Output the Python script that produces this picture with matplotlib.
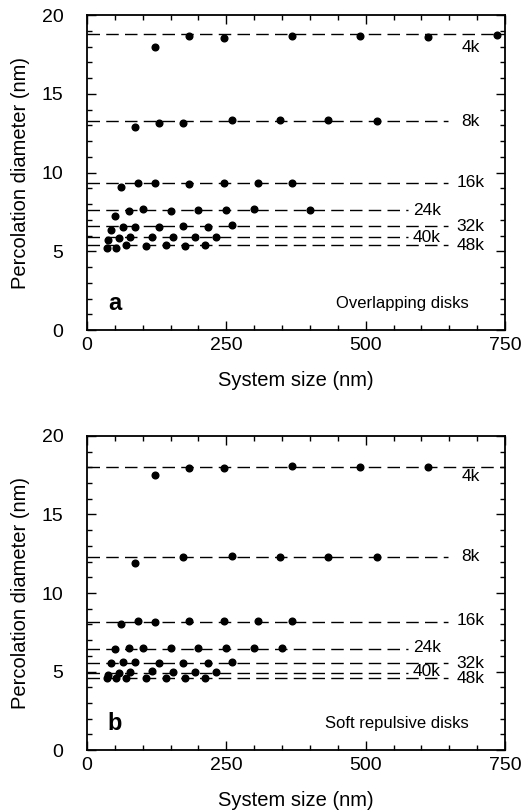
import matplotlib.pyplot as plt
from matplotlib.ticker import MultipleLocator

plt.rcParams['font.family'] = ['Liberation Sans', 'DejaVu Sans']

labels = ['4k', '8k', '16k', '24k', '32k', '40k', '48k']

# (a) overlapping disks
sizes_a = [
    [122.5, 183.75, 245, 367.5, 490, 612.5, 735],
    [86.6, 129.9, 173.2, 259.8, 346.4, 433.0, 519.6],
    [61.25, 91.9, 122.5, 183.75, 245, 306.25, 367.5],
    [50, 75, 100, 150, 200, 250, 300, 400],
    [43.3, 65.0, 86.6, 129.9, 173.2, 216.5, 259.8],
    [38.7, 58.1, 77.5, 116.2, 154.9, 193.6, 232.4],
    [35.4, 53.0, 70.7, 106.1, 141.4, 176.8, 212.1],
]
diam_a = [
    [17.99, 18.67, 18.52, 18.70, 18.70, 18.64, 18.73],
    [12.91, 13.12, 13.12, 13.33, 13.37, 13.33, 13.29],
    [9.06, 9.31, 9.31, 9.27, 9.35, 9.35, 9.31],
    [7.26, 7.56, 7.66, 7.58, 7.62, 7.62, 7.66, 7.60],
    [6.35, 6.52, 6.56, 6.56, 6.60, 6.56, 6.65],
    [5.71, 5.82, 5.88, 5.88, 5.88, 5.93, 5.93],
    [5.18, 5.24, 5.40, 5.36, 5.40, 5.36, 5.38],
]
limit_a = [18.79, 13.29, 9.35, 7.62, 6.60, 5.93, 5.40]

# (b) soft repulsive disks
sizes_b = [
    [122.5, 183.75, 245, 367.5, 490, 612.5],
    [86.6, 173.2, 259.8, 346.4, 433.0, 519.6],
    [61.25, 91.9, 122.5, 183.75, 245, 306.25, 367.5],
    [50, 75, 100, 150, 200, 250, 300, 350],
    [43.3, 65.0, 86.6, 129.9, 173.2, 216.5, 259.8],
    [38.7, 58.1, 77.5, 116.2, 154.9, 193.6, 232.4],
    [35.4, 53.0, 70.7, 106.1, 141.4, 176.8, 212.1],
]
diam_b = [
    [17.52, 17.98, 17.98, 18.09, 18.05, 18.05],
    [11.90, 12.31, 12.33, 12.31, 12.31, 12.31],
    [8.03, 8.22, 8.17, 8.24, 8.22, 8.22, 8.22],
    [6.43, 6.47, 6.47, 6.47, 6.47, 6.47, 6.47, 6.47],
    [5.52, 5.60, 5.60, 5.56, 5.56, 5.56, 5.60],
    [4.78, 4.88, 4.94, 5.03, 4.94, 4.94, 4.94],
    [4.56, 4.56, 4.56, 4.56, 4.58, 4.56, 4.56],
]
limit_b = [18.04, 12.31, 8.17, 6.45, 5.56, 4.93, 4.56]

# how far each dashed line runs and where its label sits
line_end = [750, 648, 648, 576, 648, 576, 648]
label_x = [672, 672, 663, 585, 663, 585, 663]
label_y_a = [17.92, 13.23, 9.35, 7.62, 6.60, 5.88, 5.40]
label_y_b = [17.41, 12.30, 8.28, 6.54, 5.48, 5.03, 4.57]

fig = plt.figure(figsize=(5.3, 8.11), dpi=100)
ax1 = fig.add_axes([0.164, 0.593, 0.789, 0.3884])
ax2 = fig.add_axes([0.164, 0.0752, 0.789, 0.3872])


def draw(ax, sizes, diam, limit, lab_y, letter, title):
    for i in range(len(labels)):
        ax.plot([0, line_end[i]], [limit[i], limit[i]], color='black', lw=1.0,
                dashes=(9, 4.5), zorder=2)
        ax.plot(sizes[i], diam[i], 'o', color='black', ms=4.8, zorder=3)
        ax.text(label_x[i], lab_y[i], labels[i], fontsize=12.5,
                ha='left', va='center')
    ax.text(50, 1.7, letter, fontsize=17, fontweight='bold', ha='center', va='center')
    ax.text(684, 1.7, title, fontsize=12, ha='right', va='center')
    ax.set_xlim(0, 750)
    ax.set_ylim(0, 20)
    ax.xaxis.set_major_locator(MultipleLocator(250))
    ax.xaxis.set_minor_locator(MultipleLocator(50))
    ax.yaxis.set_major_locator(MultipleLocator(5))
    ax.yaxis.set_minor_locator(MultipleLocator(1))
    ax.tick_params(which='both', direction='in', top=True, right=True, width=1.0)
    ax.tick_params(which='major', length=6.5)
    ax.tick_params(which='minor', length=3.5)
    ax.tick_params(axis='y', pad=17, labelsize=14)
    ax.tick_params(axis='x', pad=5, labelsize=14)
    for s in ax.spines.values():
        s.set_linewidth(1.3)
    ax.set_xlabel('System size (nm)', fontsize=14.5, labelpad=12)
    ax.set_ylabel('Percolation diameter (nm)', fontsize=14.5, labelpad=8)


draw(ax1, sizes_a, diam_a, limit_a, label_y_a, 'a', 'Overlapping disks')
draw(ax2, sizes_b, diam_b, limit_b, label_y_b, 'b', 'Soft repulsive disks')

fig.savefig('out.png', dpi=100)
